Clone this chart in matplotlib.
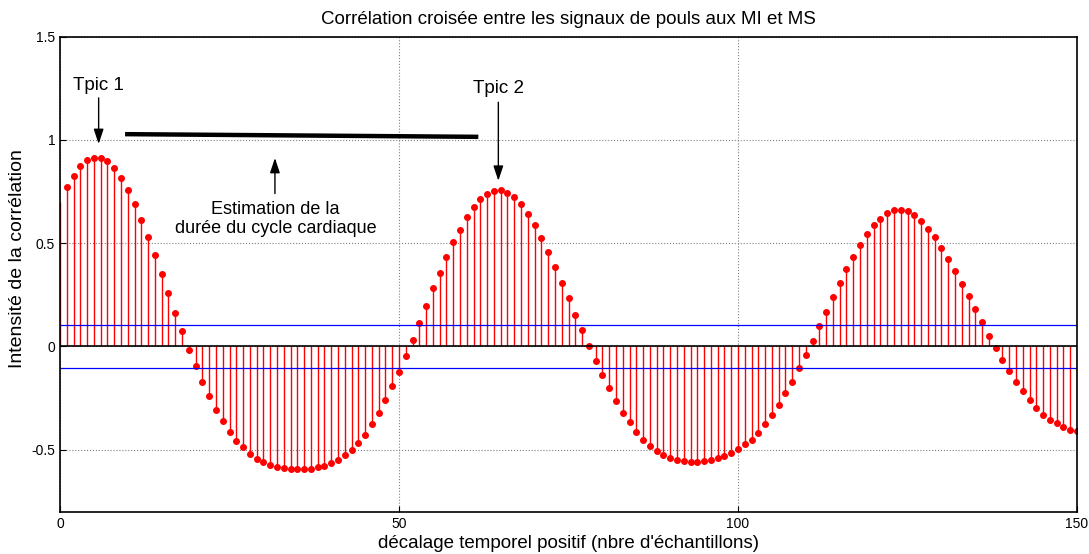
import numpy as np
import matplotlib
matplotlib.use("Agg")
import matplotlib.pyplot as plt

plt.rcParams['font.family'] = ['Liberation Sans', 'DejaVu Sans']

# lags 0..150 and cross-correlation values
lags = np.arange(0, 151)
corr = [
    0.70,
    0.774, 0.825, 0.873, 0.901, 0.914, 0.914, 0.896, 0.864, 0.817, 0.760,
    0.690, 0.614, 0.529, 0.442, 0.351, 0.257, 0.164, 0.075, -0.016, -0.096,
    -0.170, -0.240, -0.307, -0.362, -0.414, -0.456, -0.489, -0.523, -0.546, -0.560,
    -0.575, -0.584, -0.588, -0.591, -0.591, -0.591, -0.591, -0.583, -0.578, -0.565,
    -0.550, -0.526, -0.503, -0.466, -0.429, -0.377, -0.320, -0.260, -0.193, -0.123,
    -0.044, 0.031, 0.115, 0.196, 0.282, 0.355, 0.435, 0.507, 0.566, 0.628,
    0.675, 0.713, 0.740, 0.755, 0.760, 0.745, 0.722, 0.690, 0.643, 0.586,
    0.525, 0.459, 0.383, 0.308, 0.235, 0.154, 0.079, 0.004, -0.068, -0.137,
    -0.203, -0.265, -0.320, -0.367, -0.414, -0.452, -0.484, -0.507, -0.526, -0.541,
    -0.550, -0.555, -0.560, -0.560, -0.555, -0.550, -0.541, -0.531, -0.516, -0.498,
    -0.474, -0.452, -0.419, -0.377, -0.333, -0.283, -0.226, -0.170, -0.103, -0.039,
    0.028, 0.097, 0.169, 0.239, 0.308, 0.374, 0.435, 0.492, 0.544, 0.586,
    0.619, 0.648, 0.661, 0.661, 0.656, 0.638, 0.609, 0.571, 0.529, 0.477,
    0.425, 0.365, 0.303, 0.242, 0.179, 0.117, 0.050, -0.006, -0.067, -0.118,
    -0.170, -0.218, -0.260, -0.297, -0.330, -0.354, -0.372, -0.391, -0.404, -0.409,
]
seuil = 0.102  # confidence bounds

xticks = [0, 50, 100, 150]
yticks = [-0.5, 0, 0.5, 1, 1.5]
ytick_labels = ['-0.5', '0', '0.5', '1', '1.5']

fig = plt.figure(figsize=(10.89, 5.54), dpi=100)
ax = fig.add_axes([0.0551, 0.0764, 0.9339, 0.8574])

markerline, stemlines, baseline = ax.stem(lags, corr, basefmt='k-')
plt.setp(stemlines, color='red', linewidth=1.0)
plt.setp(markerline, color='red', marker='o', markersize=4)
markerline.set_markevery(slice(1, None))
plt.setp(baseline, color='black', linewidth=1.2)

ax.axhline(seuil, color='blue', linewidth=0.9)
ax.axhline(-seuil, color='blue', linewidth=0.9)

ax.set_xlim(0, 150)
ax.set_ylim(-0.8, 1.5)
ax.set_xticks(xticks)
ax.set_xticklabels([str(t) for t in xticks])
ax.set_yticks(yticks)
ax.set_yticklabels(ytick_labels)
ax.tick_params(direction='in', labelsize=10, length=4)
ax.grid(True, linestyle=':', color='gray', linewidth=0.8)
for s in ax.spines.values():
    s.set_linewidth(1.2)

ax.set_title('Corrélation croisée entre les signaux de pouls aux MI et MS', fontsize=13.5, pad=9)
ax.set_xlabel("décalage temporel positif (nbre d'échantillons)", fontsize=13.5, labelpad=3)
ax.set_ylabel('Intensité de la corrélation', fontsize=14)
ax.yaxis.set_label_coords(-0.033, 0.532)

# annotations
arrow = dict(arrowstyle='-|>,head_length=0.9,head_width=0.3', color='black', lw=1)
ax.annotate('', xy=(5.7, 0.967), xytext=(5.7, 1.217), arrowprops=arrow)
ax.text(5.7, 1.266, 'Tpic 1', fontsize=13.5, ha='center', va='center')
ax.annotate('', xy=(64.65, 0.789), xytext=(64.65, 1.196), arrowprops=arrow)
ax.text(64.65, 1.25, 'Tpic 2', fontsize=13.5, ha='center', va='center')
ax.plot([9.6, 61.7], [1.028, 1.015], color='black', linewidth=3.2, solid_capstyle='butt')
ax.annotate('', xy=(31.7, 0.926), xytext=(31.7, 0.727), arrowprops=arrow)
ax.text(31.8, 0.618, 'Estimation de la\ndurée du cycle cardiaque', fontsize=13,
        ha='center', va='center', linespacing=1.2)

fig.savefig('out.png', dpi=100)
